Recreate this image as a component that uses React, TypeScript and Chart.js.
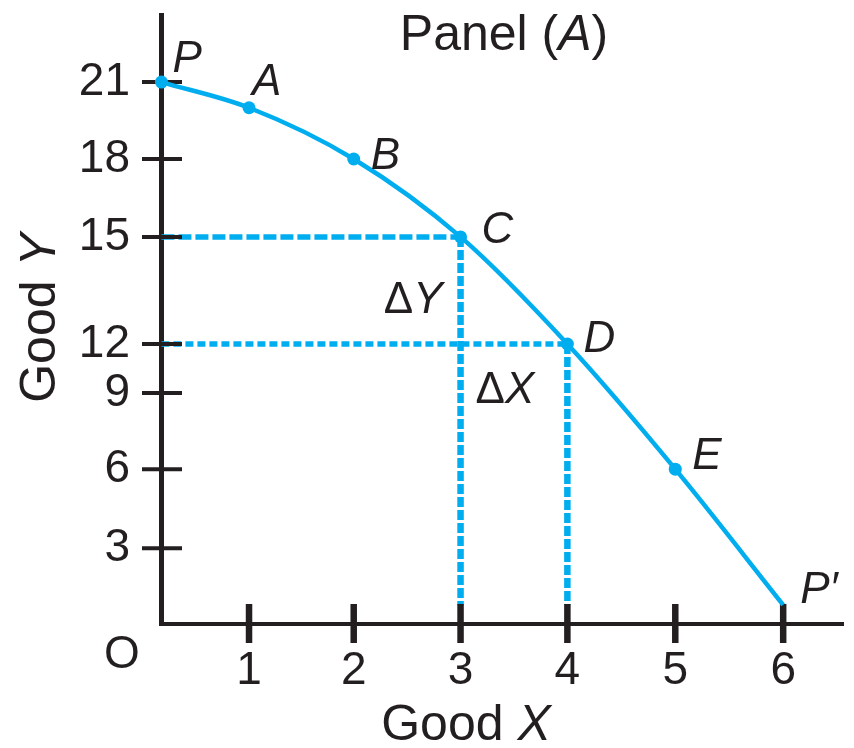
import React, { useEffect, useRef } from 'react';
import { Chart, registerables, LinearScale } from 'chart.js';

Chart.register(...registerables);

// ---- data ----
const pointNames = ['P', 'A', 'B', 'C', 'D', 'E', 'P′'];
const goodX = [0, 1, 2, 3, 4, 5, 6];
const goodY = [21, 20, 18, 15, 12, 6, 0];
const xTickValues = [1, 2, 3, 4, 5, 6];
const yTickValues = [3, 6, 9, 12, 15, 18, 21];
const guideNames = ['C', 'D'];

// The original figure's axes are drawn unevenly: value -> drawn position (axis units)
const xWarpFrom = [0, 1, 2, 3, 4, 5, 6];
const xWarpTo = [0.18, 1, 1.98, 2.98, 3.98, 4.99, 6];
const yWarpFrom = [0, 3, 6, 9, 12, 15, 18, 21];
const yWarpTo = [0.74, 2.94, 6, 8.95, 10.85, 15, 18.02, 21];

const WARPS: Record<string, [number[], number[]]> = {
  x: [xWarpFrom, xWarpTo],
  y: [yWarpFrom, yWarpTo],
};

function piecewise(v: number, from: number[], to: number[]): number {
  const n = from.length;
  if (v <= from[0]) return to[0] + (v - from[0]);
  if (v >= from[n - 1]) return to[n - 1] + (v - from[n - 1]);
  for (let i = 0; i < n - 1; i++) {
    if (v <= from[i + 1]) {
      const t = (v - from[i]) / (from[i + 1] - from[i]);
      return to[i] + t * (to[i + 1] - to[i]);
    }
  }
  return v;
}

class WarpedLinearScale extends LinearScale {
  static id = 'warpedLinear';
  static defaults = LinearScale.defaults;
  getPixelForValue(value: any) {
    const w = WARPS[(this as any).id];
    if (value === null || value === undefined || !w) return super.getPixelForValue(value);
    return super.getPixelForValue(piecewise(value, w[0], w[1]));
  }
  getValueForPixel(pixel: number) {
    const w = WARPS[(this as any).id];
    const v = super.getValueForPixel(pixel);
    return w ? piecewise(v, w[1], w[0]) : v;
  }
}
Chart.register(WarpedLinearScale as any);

// ---- styles ----
const BLUE = '#00aeef';
const INK = '#231f20';
const FAMILY = '"Liberation Sans", Arial, Helvetica, sans-serif';

// label placement relative to each point (left edge, baseline)
const labelOffsets: Record<string, [number, number]> = {
  P: [11, -10],
  A: [3, -13],
  B: [17, 10],
  C: [21, 6],
  D: [16, 8],
  E: [17, 0],
  'P′': [17, -2],
};

type Part = [string, boolean];

function drawRich(ctx: CanvasRenderingContext2D, parts: Part[], x: number, y: number, align: 'left' | 'center' | 'right', size: number) {
  const fontFor = (it: boolean) => `${it ? 'italic ' : ''}${size}px ${FAMILY}`;
  let total = 0;
  const widths = parts.map(([t, it]) => {
    ctx.font = fontFor(it);
    const w = ctx.measureText(t).width;
    total += w;
    return w;
  });
  let cx = align === 'left' ? x : align === 'center' ? x - total / 2 : x - total;
  ctx.textAlign = 'left';
  ctx.textBaseline = 'alphabetic';
  parts.forEach(([t, it], i) => {
    ctx.font = fontFor(it);
    ctx.fillText(t, cx, y);
    cx += widths[i];
  });
}

const tickMarksPlugin = {
  id: 'tickMarks',
  beforeDatasetDraw(chart: any, args: any) {
    if (args.index !== 0) return;
    const ctx = chart.ctx as CanvasRenderingContext2D;
    const xs = chart.scales.x;
    const ys = chart.scales.y;
    ctx.save();
    ctx.strokeStyle = INK;
    ctx.lineCap = 'butt';
    ctx.lineWidth = 4;
    yTickValues.forEach((v) => {
      const py = ys.getPixelForValue(v);
      ctx.beginPath();
      ctx.moveTo(ys.right - 19, py);
      ctx.lineTo(ys.right + 21, py);
      ctx.stroke();
    });
    ctx.lineWidth = 6.5;
    xTickValues.forEach((v) => {
      const px = xs.getPixelForValue(v);
      ctx.beginPath();
      ctx.moveTo(px, xs.top - 20);
      ctx.lineTo(px, xs.top + 19);
      ctx.stroke();
    });
    ctx.restore();
  },
};

const textPlugin = {
  id: 'figureText',
  afterDraw(chart: any) {
    const ctx = chart.ctx as CanvasRenderingContext2D;
    const xs = chart.scales.x;
    const ys = chart.scales.y;
    const meta = chart.getDatasetMeta(0);
    ctx.save();
    ctx.fillStyle = INK;
    // point labels
    pointNames.forEach((name, i) => {
      const el = meta.data[i];
      const off = labelOffsets[name] || [12, -8];
      drawRich(ctx, [[name, true]], el.x + off[0], el.y + off[1], 'left', 44);
    });
    // delta labels
    const iC = pointNames.indexOf('C');
    const iD = pointNames.indexOf('D');
    const pxC = xs.getPixelForValue(goodX[iC]);
    const pyD = ys.getPixelForValue(goodY[iD]);
    drawRich(ctx, [['Δ', false], ['Y', true]], pxC - 18, pyD - 31, 'right', 44);
    drawRich(ctx, [['Δ', false], ['X', true]], pxC + 15, pyD + 59, 'left', 44);
    // origin
    drawRich(ctx, [['O', false]], chart.chartArea.left - 39, chart.chartArea.bottom + 44, 'center', 46);
    // panel title
    drawRich(ctx, [['Panel (', false], ['A', true], [')', false]], 504, 50, 'center', 50);
    // x title
    drawRich(ctx, [['Good ', false], ['X', true]], 466, 740, 'center', 50);
    // y title (rotated)
    ctx.save();
    ctx.translate(55, 318);
    ctx.rotate(-Math.PI / 2);
    drawRich(ctx, [['Good ', false], ['Y', true]], 0, 0, 'center', 50);
    ctx.restore();
    ctx.restore();
  },
};

export default function App() {
  const canvasRef = useRef<HTMLCanvasElement | null>(null);

  useEffect(() => {
    if (!canvasRef.current) return;

    const curve = {
      label: 'Production possibilities frontier',
      data: goodX.map((x, i) => ({ x, y: goodY[i] })),
      borderColor: BLUE,
      backgroundColor: BLUE,
      borderWidth: 4.5,
      cubicInterpolationMode: 'monotone' as const,
      pointRadius: pointNames.map((n) => (n === 'P′' ? 0 : 6.5)),
      pointBackgroundColor: BLUE,
      pointBorderWidth: 0,
      clip: false as any,
    };

    const guides: any[] = [];
    guideNames.forEach((name, gi) => {
      const i = pointNames.indexOf(name);
      guides.push({
        label: `${name} horizontal`,
        data: [{ x: 0, y: goodY[i] }, { x: goodX[i], y: goodY[i] }],
        borderColor: BLUE,
        borderWidth: 5.5,
        borderDash: gi === 0 ? [13, 4] : [8, 4],
        pointRadius: 0,
        tension: 0,
        clip: false,
      });
      guides.push({
        label: `${name} vertical`,
        data: [{ x: goodX[i], y: goodY[i] }, { x: goodX[i], y: 0 }],
        borderColor: BLUE,
        borderWidth: 6.5,
        borderDash: [10, 3],
        pointRadius: 0,
        tension: 0,
        clip: false,
      });
    });

    const chart = new Chart(canvasRef.current, {
      type: 'line',
      data: { datasets: [curve, ...guides] as any },
      options: {
        animation: false,
        responsive: true,
        maintainAspectRatio: false,
        events: [],
        layout: { padding: { left: 0, top: 15, right: 11, bottom: 0 } },
        plugins: {
          legend: { display: false },
          tooltip: { enabled: false },
          title: { display: false },
        },
        scales: {
          x: {
            type: 'warpedLinear' as any,
            min: 0.176,
            max: 6.56,
            afterBuildTicks: (s: any) => {
              s.ticks = xTickValues.map((v) => ({ value: v }));
            },
            afterFit: (s: any) => {
              s.height = 124;
              s.paddingLeft = 0;
              s.paddingRight = 0;
              s.paddingTop = 0;
              s.paddingBottom = 0;
            },
            grid: { display: false, drawTicks: false },
            border: { display: true, color: INK, width: 4 },
            ticks: {
              autoSkip: false,
              maxRotation: 0,
              minRotation: 0,
              padding: 20,
              color: INK,
              font: { family: FAMILY, size: 46 },
              callback: (v: any) => String(v),
            },
          },
          y: {
            type: 'warpedLinear' as any,
            min: 0,
            max: 23.6,
            afterBuildTicks: (s: any) => {
              s.ticks = yTickValues.map((v) => ({ value: v }));
            },
            afterFit: (s: any) => {
              s.width = 161;
              s.paddingLeft = 0;
              s.paddingRight = 0;
              s.paddingTop = 0;
              s.paddingBottom = 0;
            },
            grid: { display: false, drawTicks: false },
            border: { display: true, color: INK, width: 5 },
            ticks: {
              autoSkip: false,
              padding: 31,
              color: INK,
              font: { family: FAMILY, size: 46 },
              callback: (v: any) => String(v),
            },
          },
        } as any,
      },
      plugins: [tickMarksPlugin, textPlugin],
    });

    return () => chart.destroy();
  }, []);

  return (
    <div style={{ position: 'fixed', left: 0, top: 0, width: 854, height: 748, background: '#ffffff' }}>
      <canvas ref={canvasRef} />
    </div>
  );
}
